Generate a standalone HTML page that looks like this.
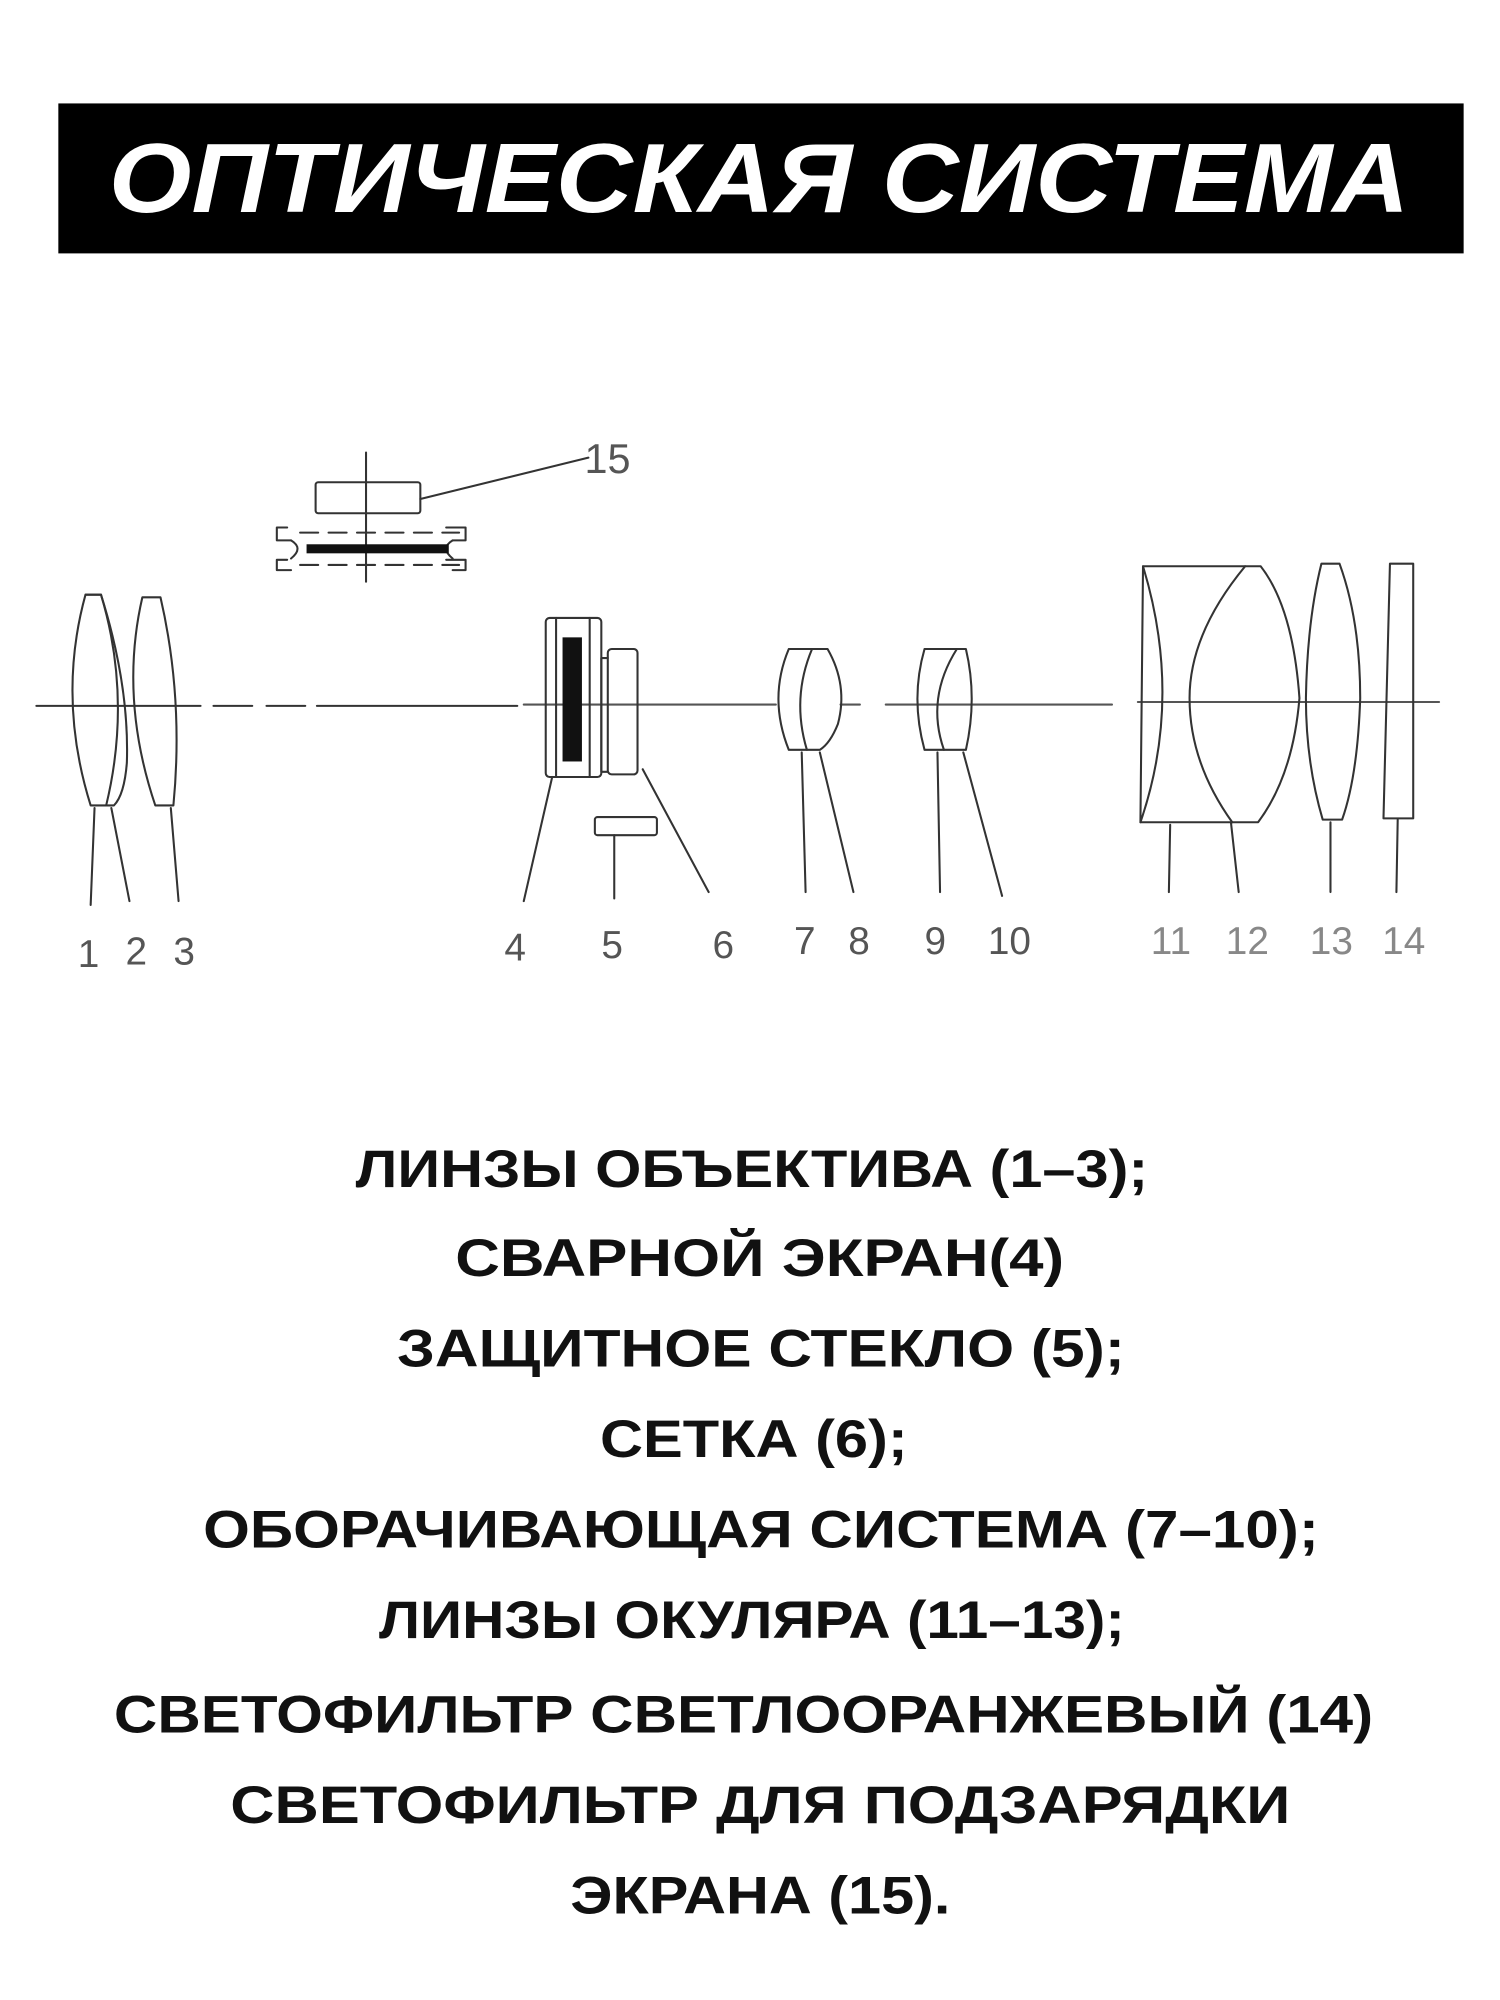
<!DOCTYPE html>
<html><head><meta charset="utf-8"><style>
html,body{margin:0;padding:0;background:#fff;}
svg{display:block;}
</style></head><body>
<svg width="1500" height="2000" viewBox="0 0 1160 1547" xmlns="http://www.w3.org/2000/svg">
<rect x="0" y="0" width="1160" height="1547" fill="#fff"/>
<rect x="45" y="80" width="1087" height="116" fill="#000"/>
<text x="84" y="164" font-family="Liberation Sans, sans-serif" font-weight="bold" font-style="italic" font-size="76" fill="#fff" textLength="1006" lengthAdjust="spacingAndGlyphs">ОПТИЧЕСКАЯ СИСТЕМА</text>

<g fill="none" stroke="#333" stroke-width="1.6" stroke-linecap="round" stroke-linejoin="round">
<!-- axis -->
<path d="M28 546 H155 M165 546 H195 M206 546 H236 M245 546 H400" />
<path d="M405 545 H600 M650 545 H665 M685 545 H860" stroke="#555"/>
<path d="M880 543 H1113" stroke="#555"/>
<!-- lens 1,2 -->
<path d="M66 460 Q44 540 70 623 L82 623 Q102 540 78 460 Z"/>
<path d="M66 460 L78 460 Q100 530 98 590 Q96 615 88 623 L82 623"/>
<!-- lens 3 -->
<path d="M110 462 Q92 540 120 623 L134 623 Q142 540 124 462 Z"/>
<!-- component 15 -->
<rect x="244" y="373" width="81" height="24" rx="2"/>
<path d="M283 350 V450"/>
<path d="M325 386 L455 354"/>
<path d="M222 408 H214 V418 H225 M222 433 H214 V441 H225 M345 408 H360 V418 H350 M345 433 H360 V441 H350"/>
<path d="M232 412 H355 M232 437 H355" stroke-dasharray="14 8"/>
<path d="M225 418 Q235 424 225 432 M350 418 Q340 424 350 432"/>
<rect x="237" y="421" width="110" height="7" fill="#111" stroke="none"/>
<!-- component 4 -->
<rect x="422" y="478" width="43" height="123" rx="3"/>
<path d="M430 478 V601 M456 478 V601"/>
<rect x="435" y="493" width="15" height="96" fill="#111" stroke="none"/>
<!-- 6 -->
<rect x="470" y="502" width="23" height="97" rx="3"/>
<path d="M465 509 H470 M465 597 H470 M465 509 V597"/>
<!-- 5 -->
<rect x="460" y="632" width="48" height="14" rx="2"/>
<path d="M475 646 V695"/>
<!-- leaders 4,6 -->
<path d="M427 601 L405 697 M497 595 L548 690"/>
<!-- lens 7-8 -->
<path d="M610 502 Q594 540 610 580 L624 580 Q612 540 628 502 Z"/>
<path d="M628 502 L640 502 Q656 530 648 560 Q642 575 634 580 L624 580"/>
<!-- lens 9-10 -->
<path d="M715 502 Q704 540 715 580 L730 580 Q716 540 740 502 Z"/>
<path d="M740 502 L747 502 Q756 540 747 580 L730 580"/>
<!-- leaders 1-3 -->
<path d="M73 625 L70 700 M86 625 L100 697 M132 625 L138 697"/>
<!-- leaders 7-10 -->
<path d="M620 582 L623 690 M634 582 L660 690 M725 582 L727 690 M745 582 L775 693"/>
<!-- lens 11,12 -->
<path d="M884 438 H975 Q1000 470 1005 540 Q1000 600 973 636 H882 Z"/>
<path d="M884 438 Q915 540 882 636"/>
<path d="M963 438 Q920 490 920 540 Q920 590 953 636"/>
<!-- 13 -->
<path d="M1022 436 H1036 Q1052 480 1052 540 Q1050 600 1038 634 H1023 Q1010 590 1010 540 Q1011 480 1022 436 Z"/>
<!-- 14 -->
<path d="M1075 436 H1093 V633 H1070 Z"/>
<!-- leaders 11-14 -->
<path d="M905 638 L904 690 M952 636 L958 690 M1029 636 L1029 690 M1081 634 L1080 690"/>
</g>
<g fill="#555" font-family="Liberation Sans, sans-serif" font-size="30">
<text x="452" y="366" font-size="32">15</text>
<text x="60" y="748">1</text>
<text x="97" y="746">2</text>
<text x="134" y="746">3</text>
<text x="390" y="743">4</text>
<text x="465" y="741">5</text>
<text x="551" y="741">6</text>
<text x="614" y="738">7</text>
<text x="656" y="738">8</text>
<text x="715" y="738">9</text>
<text x="764" y="738">10</text>
<text x="890" y="738" fill="#888">11</text>
<text x="948" y="738" fill="#888">12</text>
<text x="1013" y="738" fill="#888">13</text>
<text x="1069" y="738" fill="#888">14</text>
</g>
<g font-family="Liberation Sans, sans-serif" font-weight="bold" font-size="41" fill="#111" lengthAdjust="spacingAndGlyphs">
<text x="275" y="918" textLength="613" lengthAdjust="spacingAndGlyphs">ЛИНЗЫ ОБЪЕКТИВА (1–3);</text>
<text x="352" y="987" textLength="471" lengthAdjust="spacingAndGlyphs">СВАРНОЙ ЭКРАН(4)</text>
<text x="307" y="1057" textLength="563" lengthAdjust="spacingAndGlyphs">ЗАЩИТНОЕ СТЕКЛО (5);</text>
<text x="464" y="1127" textLength="238" lengthAdjust="spacingAndGlyphs">СЕТКА (6);</text>
<text x="157" y="1197" textLength="863" lengthAdjust="spacingAndGlyphs">ОБОРАЧИВАЮЩАЯ СИСТЕМА (7–10);</text>
<text x="293" y="1267" textLength="577" lengthAdjust="spacingAndGlyphs">ЛИНЗЫ ОКУЛЯРА (11–13);</text>
<text x="88" y="1340" textLength="974" lengthAdjust="spacingAndGlyphs">СВЕТОФИЛЬТР СВЕТЛООРАНЖЕВЫЙ (14)</text>
<text x="178" y="1410" textLength="820" lengthAdjust="spacingAndGlyphs">СВЕТОФИЛЬТР ДЛЯ ПОДЗАРЯДКИ</text>
<text x="441" y="1480" textLength="294" lengthAdjust="spacingAndGlyphs">ЭКРАНА (15).</text>
</g>
</svg>
</body></html>
